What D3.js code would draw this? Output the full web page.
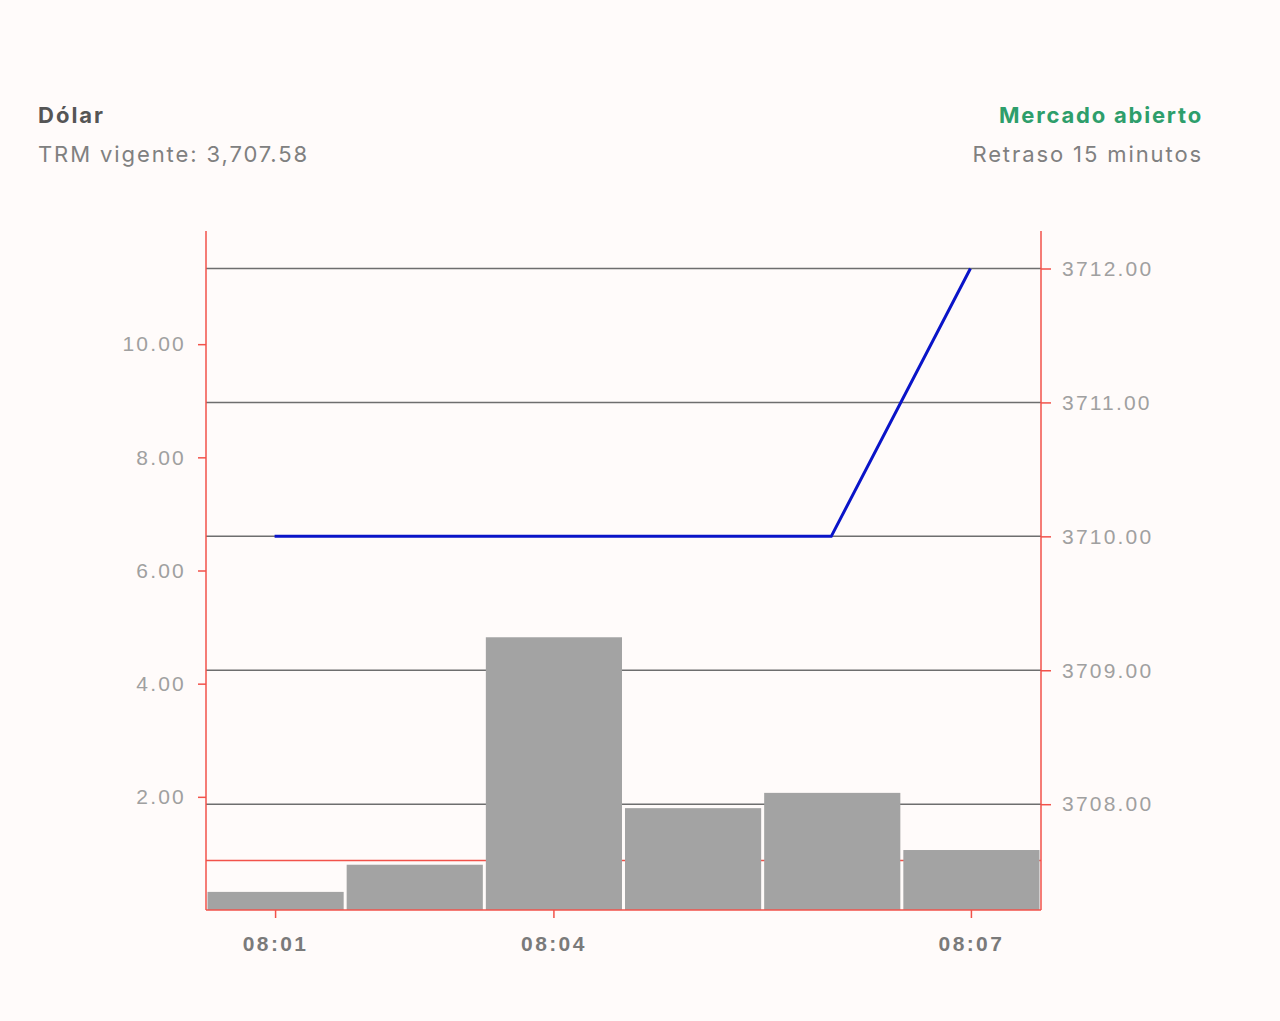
<!DOCTYPE html>
<html>
<head>
<meta charset="utf-8">
<script src="https://cdn.jsdelivr.net/npm/d3@7"></script>
<style>
  body { margin: 0; background: #fffbfa; font-family: Inter, "Open Sans", sans-serif; }
  .title { font-size: 22px; font-weight: 700; fill: #555; letter-spacing: 2px; }
  .sub { font-size: 22px; fill: #808080; letter-spacing: 1.9px; }
  .open { font-size: 22px; font-weight: 700; fill: #2e9e6b; letter-spacing: 1.8px; }
  .axis text { font-size: 21px; fill: #a0a0a0; letter-spacing: 2.2px; }
  .xaxis text { font-size: 21px; font-weight: 700; fill: #7a7a7a; letter-spacing: 2.4px; }
</style>
</head>
<body>
<div id="chart"></div>
<script>
// svg size
let svgWidth = 1280;
let svgHeight = 1021;

// chart data
let minutes = ['08:01', '08:02', '08:04', '08:05', '08:06', '08:07'];
let volumes = [0.32, 0.80, 4.82, 1.80, 2.07, 1.06];
let prices = [3710, 3710, 3710, 3710, 3710, 3712];
let shownTicks = ['08:01', '08:04', '08:07'];
let volumeTicks = [2, 4, 6, 8, 10];
let priceTicks = [3708, 3709, 3710, 3711, 3712];
let trm = 3707.58;

// plot area
let margin = { top: 231, right: 239, bottom: 111, left: 206 };
let width = svgWidth - margin.left - margin.right;
let height = svgHeight - margin.top - margin.bottom;

let svg = d3.select('#chart')
  .append('svg')
  .attr('width', svgWidth)
  .attr('height', svgHeight);

// header texts
svg.append('text').classed('title', true).attr('x', 38).attr('y', 123).text('Dólar');
svg.append('text').classed('sub', true).attr('x', 38).attr('y', 162).text('TRM vigente: 3,707.58');
svg.append('text').classed('open', true).attr('x', 1203).attr('y', 123)
  .attr('text-anchor', 'end').text('Mercado abierto');
svg.append('text').classed('sub', true).attr('x', 1203).attr('y', 162)
  .attr('text-anchor', 'end').text('Retraso 15 minutos');

let chartG = svg.append('g')
  .attr('transform', `translate(${margin.left}, ${margin.top})`);

// scales
let x = d3.scaleBand().domain(minutes).range([0, width]).padding(0);
let yVol = d3.scaleLinear().domain([0, 12]).range([height, 0]);
let yPrice = d3.scaleLinear().domain([3707.21, 3712.28]).range([height, 0]);

// grid lines from price ticks
chartG.selectAll('.grid')
  .data(priceTicks)
  .enter()
  .append('line')
  .attr('x1', 0)
  .attr('x2', width)
  .attr('y1', d => yPrice(d))
  .attr('y2', d => yPrice(d))
  .attr('stroke', '#6e6e6e')
  .attr('stroke-width', 1.5);

// TRM reference line
chartG.append('line')
  .attr('x1', 0)
  .attr('x2', width)
  .attr('y1', yPrice(trm))
  .attr('y2', yPrice(trm))
  .attr('stroke', '#f2524a')
  .attr('stroke-width', 1.5);

// volume bars
chartG.selectAll('.bar')
  .data(volumes)
  .enter()
  .append('rect')
  .attr('x', (d, i) => x(minutes[i]) + 1.5)
  .attr('width', x.bandwidth() - 3)
  .attr('y', d => yVol(d))
  .attr('height', d => height - yVol(d))
  .attr('fill', '#a3a3a3');

// price line
let line = d3.line()
  .x((d, i) => x(minutes[i]) + x.bandwidth() / 2 - 1)
  .y(d => yPrice(d));

chartG.append('path')
  .datum(prices)
  .attr('d', line)
  .attr('fill', 'none')
  .attr('stroke', '#0a14c8')
  .attr('stroke-width', 3);

// axes
let leftAxis = d3.axisLeft(yVol).tickValues(volumeTicks).tickFormat(d3.format('.2f')).tickSize(8).tickPadding(12);
let rightAxis = d3.axisRight(yPrice).tickValues(priceTicks).tickFormat(d3.format('.2f')).tickSize(10).tickPadding(11);
let bottomAxis = d3.axisBottom(x).tickValues(shownTicks).tickSize(8).tickPadding(18);

let yAxisL = chartG.append('g').classed('axis', true).call(leftAxis);
let yAxisR = chartG.append('g').classed('axis', true)
  .attr('transform', `translate(${width}, 0)`).call(rightAxis);
let xAxis = chartG.append('g').classed('axis xaxis', true)
  .attr('transform', `translate(0, ${height})`).call(bottomAxis);

[yAxisL, yAxisR, xAxis].forEach(function(g) {
  g.select('.domain').attr('stroke', '#f2524a').attr('stroke-width', 1.5);
  g.selectAll('.tick line').attr('stroke', '#f2524a').attr('stroke-width', 1.5);
});
yAxisL.selectAll('.domain').attr('d', `M0,${height}V0`);
yAxisR.selectAll('.domain').attr('d', `M0,${height}V0`);
xAxis.selectAll('.domain').attr('d', `M0,0H${width}`);
</script>
</body>
</html>
